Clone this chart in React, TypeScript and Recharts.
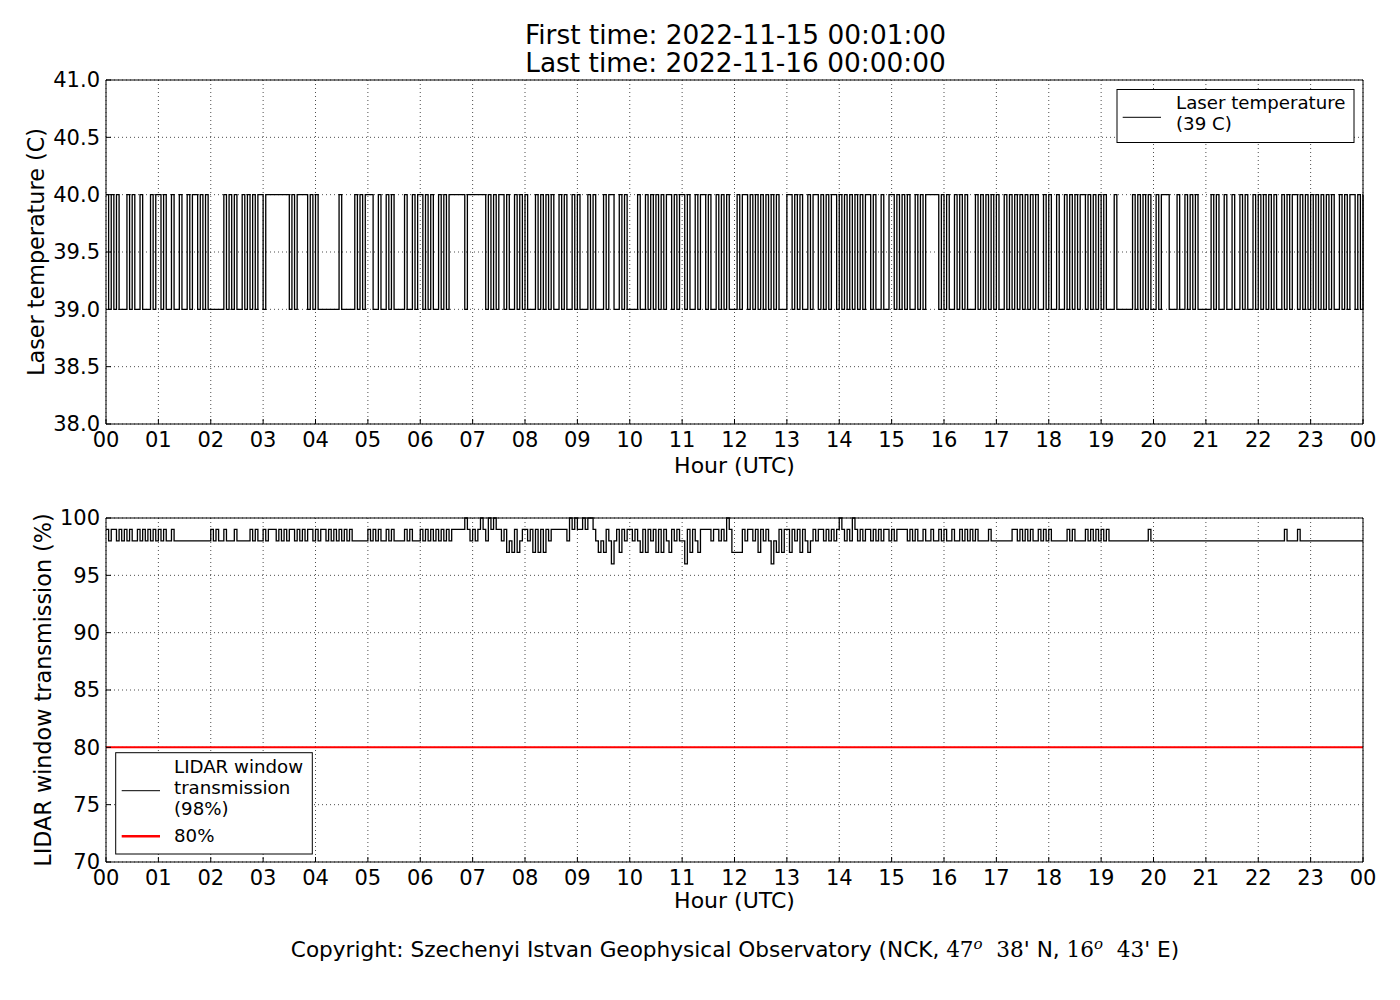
import React from "react";
import { LineChart, Line, XAxis, YAxis, CartesianGrid } from "recharts";

const FONT = "DejaVu Sans";

// X axis: minutes since 2022-11-15 00:00 UTC, one tick per hour
const hourTicks = [0, 60, 120, 180, 240, 300, 360, 420, 480, 540, 600, 660, 720, 780, 840, 900, 960, 1020, 1080, 1140, 1200, 1260, 1320, 1380, 1440];
const hourTickLabels = ["00", "01", "02", "03", "04", "05", "06", "07", "08", "09", "10", "11", "12", "13", "14", "15", "16", "17", "18", "19", "20", "21", "22", "23", "00"];
const laserTicks = [38, 38.5, 39, 39.5, 40, 40.5, 41];
const lidarTicks = [70, 75, 80, 85, 90, 95, 100];

// minutes covered by one character of the hourly state strings
const stepMinutes = 3;

// Laser temperature, one string per hour, 3-minute states: '0' = 39 C, '1' = 40 C
const laserStates = [
  "10101000101001000101",
  "10100100100101101010",
  "00000101010010101011",
  "01111111110101111010",
  "10000000010000010101",
  "11001001010000100101",
  "10101001010111111011",
  "11111010101101001010",
  "10001010101001010010",
  "10001010001011001010",
  "00010010101010110101",
  "10100101101001010100",
  "01011010101010101000",
  "11010100101101010110",
  "10101010101101001001",
  "10101010010101111101",
  "01001010100010101010",
  "10010101010101010010",
  "10010010101011010101",
  "01000100000010101010",
  "01011100010010101000",
  "00101001001001010010",
  "10101010010101101010",
  "10101010100101011010",
];

// LIDAR window transmission (%), one string per hour, 3-minute states:
// '6' = 96, '7' = 97, '8' = 98, '9' = 99, 'X' = 100
const lidarStates = [
  "98998989898898989898",
  "98988988888888888888",
  "98988988898888898988",
  "98999898989989898998",
  "98998989898989888888",
  "98989889898888989888",
  "98989898989899999X98",
  "989X98X9X99897879789",
  "98979797989999998X9X",
  "99X9XX98787986897989",
  "98987979897979879898",
  "86979879999899898X97",
  "77798998979898687979",
  "97989798789899898989",
  "X9898X98989989898998",
  "98999989898898898898",
  "98898898989898888988",
  "88888899898989889898",
  "98888889898888989898",
  "98988888888888888898",
  "88888888888888888888",
  "88888888888888888888",
  "88888888889888898888",
  "88888888888888888888",
];

const laserCode: Record<string, number> = { "0": 39, "1": 40 };
const lidarCode: Record<string, number> = { "6": 96, "7": 97, "8": 98, "9": 99, X: 100 };
const thresholdPercent = 80;
const lastLaser = 40;
const lastLidar = 98;

type Row = { t: number; laser: number; lidar: number; limit: number };
const rows: Row[] = [];
laserStates.forEach((s, h) => {
  for (let k = 0; k < s.length; k++) {
    rows.push({
      t: h * 60 + k * stepMinutes,
      laser: laserCode[s[k]],
      lidar: lidarCode[lidarStates[h][k]],
      limit: thresholdPercent,
    });
  }
});
rows.push({ t: 1440, laser: lastLaser, lidar: lastLidar, limit: thresholdPercent });

const tickStyle = { fill: "#000", fontSize: 21, fontFamily: FONT };
const hourFmt = (v: number) => hourTickLabels[Math.round(v / 60)];

function Panel(props: {
  top: number;
  marginTop: number;
  marginBottom: number;
  domain: [number, number];
  ticks: number[];
  fmt: (v: number) => string;
  children: React.ReactNode;
}) {
  const { top, marginTop, marginBottom, domain, ticks, fmt, children } = props;
  return (
    <div style={{ position: "absolute", left: 0, top }}>
      <LineChart
        width={1400}
        height={480}
        data={rows}
        margin={{ top: marginTop, right: 36, bottom: marginBottom, left: 0 }}
      >
        <CartesianGrid stroke="#000" strokeWidth={0.7} strokeDasharray="1 3" />
        <XAxis
          dataKey="t"
          type="number"
          domain={[0, 1440]}
          ticks={hourTicks}
          interval={0}
          tickFormatter={hourFmt}
          height={40}
          tickSize={-5}
          tickMargin={13}
          stroke="#000"
          axisLine={{ stroke: "#000", strokeWidth: 1 }}
          tickLine={{ stroke: "#000" }}
          tick={tickStyle}
        />
        <XAxis
          xAxisId="top"
          orientation="top"
          dataKey="t"
          type="number"
          domain={[0, 1440]}
          ticks={hourTicks}
          interval={0}
          height={1}
          tickSize={-5}
          tick={false}
          axisLine={{ stroke: "#000", strokeWidth: 1 }}
          tickLine={{ stroke: "#000" }}
        />
        <YAxis
          type="number"
          domain={domain}
          ticks={ticks}
          interval={0}
          tickFormatter={fmt}
          width={106}
          tickSize={-5}
          tickMargin={11}
          axisLine={{ stroke: "#000", strokeWidth: 1 }}
          tickLine={{ stroke: "#000" }}
          tick={tickStyle}
        />
        <YAxis
          yAxisId="right"
          orientation="right"
          type="number"
          domain={domain}
          ticks={ticks}
          interval={0}
          width={1}
          tickSize={-5}
          tick={false}
          axisLine={{ stroke: "#000", strokeWidth: 1 }}
          tickLine={{ stroke: "#000" }}
        />
        {children}
      </LineChart>
    </div>
  );
}

export default function App() {
  return (
    <div style={{ position: "relative", width: 1400, height: 1000, background: "#fff", fontFamily: FONT }}>
      <style>{"body{margin:0;background:#fff}"}</style>

      <Panel top={0} marginTop={79} marginBottom={16} domain={[38, 41]} ticks={laserTicks} fmt={(v) => v.toFixed(1)}>
        <Line
          dataKey="laser"
          type="stepAfter"
          stroke="#000"
          strokeWidth={1.3}
          dot={false}
          activeDot={false}
          isAnimationActive={false}
        />
      </Panel>

      <Panel top={440} marginTop={77} marginBottom={18} domain={[70, 100]} ticks={lidarTicks} fmt={(v) => String(v)}>
        <Line
          dataKey="lidar"
          type="stepAfter"
          stroke="#000"
          strokeWidth={1.3}
          dot={false}
          activeDot={false}
          isAnimationActive={false}
        />
        <Line
          dataKey="limit"
          type="linear"
          stroke="#ff0000"
          strokeWidth={2}
          dot={false}
          activeDot={false}
          isAnimationActive={false}
        />
      </Panel>

      <svg
        width={1400}
        height={1000}
        style={{ position: "absolute", left: 0, top: 0, pointerEvents: "none" }}
        fontFamily={FONT}
      >
        <text x={735.5} y={43.5} textAnchor="middle" fontSize={26.4} fill="#000">
          First time: 2022-11-15 00:01:00
        </text>
        <text x={735.5} y={72} textAnchor="middle" fontSize={26.4} fill="#000">
          Last time: 2022-11-16 00:00:00
        </text>

        <text x={734.5} y={473} textAnchor="middle" fontSize={22} fill="#000">
          Hour (UTC)
        </text>
        <text x={734.5} y={908} textAnchor="middle" fontSize={22} fill="#000">
          Hour (UTC)
        </text>

        <text transform="translate(43.5,252) rotate(-90)" textAnchor="middle" fontSize={22.3} fill="#000">
          Laser temperature (C)
        </text>
        <text transform="translate(50.5,690) rotate(-90)" textAnchor="middle" fontSize={22.3} fill="#000">
          LIDAR window transmission (%)
        </text>

        {/* legend, top panel */}
        <rect x={1117} y={89.5} width={237} height={53} fill="#fff" stroke="#000" strokeWidth={1} />
        <line x1={1122.7} x2={1161} y1={117.3} y2={117.3} stroke="#000" strokeWidth={1} />
        <text x={1176} y={109} fontSize={18.2} fill="#000">Laser temperature</text>
        <text x={1176} y={130} fontSize={18.2} fill="#000">(39 C)</text>

        {/* legend, bottom panel */}
        <rect x={115.7} y={752.7} width={196.6} height={101.3} fill="#fff" stroke="#000" strokeWidth={1} />
        <line x1={121.7} x2={160} y1={790.7} y2={790.7} stroke="#000" strokeWidth={1} />
        <line x1={121.7} x2={160} y1={836.3} y2={836.3} stroke="#ff0000" strokeWidth={2.5} />
        <text x={174} y={772.7} fontSize={18.2} fill="#000">LIDAR window</text>
        <text x={174} y={794} fontSize={18.2} fill="#000">transmission</text>
        <text x={174} y={814.5} fontSize={18.2} fill="#000">(98%)</text>
        <text x={174} y={841.7} fontSize={18.2} fill="#000">80%</text>

        <text x={735} y={957} textAnchor="middle" fontSize={21.6} fill="#000" style={{ whiteSpace: "pre" }}>
          <tspan>Copyright: Szechenyi Istvan Geophysical Observatory (NCK, </tspan>
          <tspan fontFamily="DejaVu Serif">47</tspan>
          <tspan fontFamily="DejaVu Serif" fontStyle="italic" fontSize={15} dy={-8}>o</tspan>
          <tspan fontFamily="DejaVu Serif" dy={8}>{"\u00a0\u00a038"}</tspan>
          <tspan>' N, </tspan>
          <tspan fontFamily="DejaVu Serif">16</tspan>
          <tspan fontFamily="DejaVu Serif" fontStyle="italic" fontSize={15} dy={-8}>o</tspan>
          <tspan fontFamily="DejaVu Serif" dy={8}>{"\u00a0\u00a043"}</tspan>
          <tspan>' E)</tspan>
        </text>
      </svg>
    </div>
  );
}
